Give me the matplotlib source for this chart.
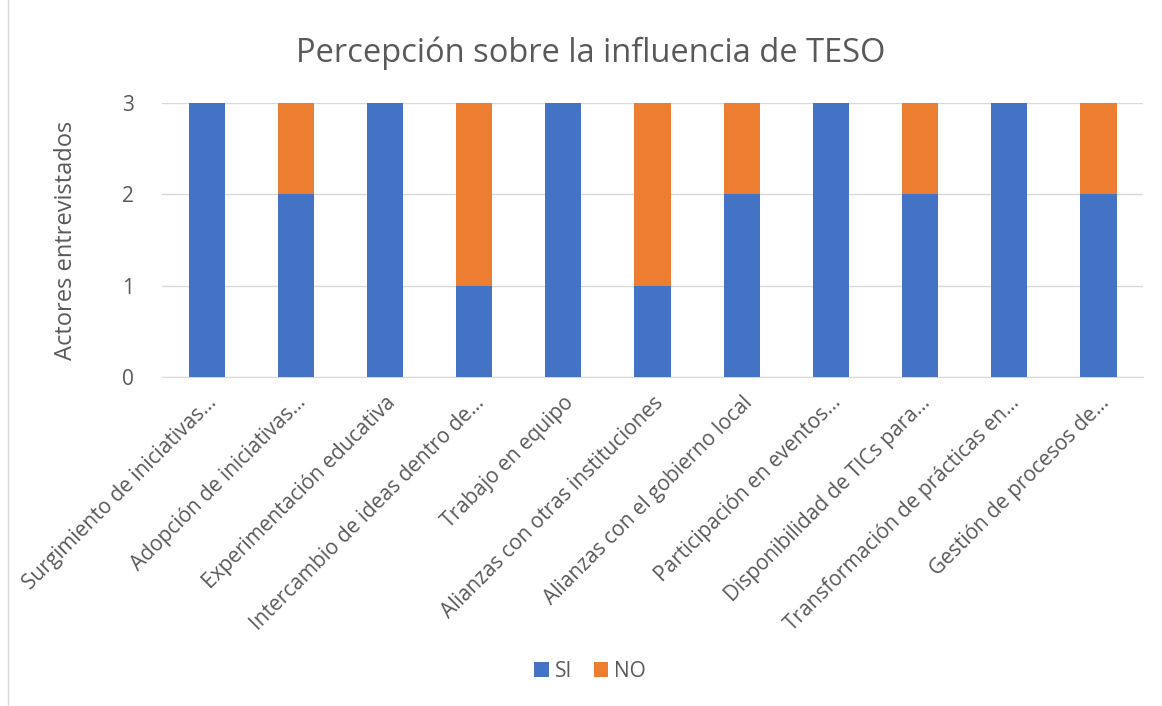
import numpy as np
from matplotlib import pyplot as plt
from matplotlib.patches import Rectangle

categories = [
    "Surgimiento de iniciativas…",
    "Adopción de iniciativas…",
    "Experimentación educativa",
    "Intercambio de ideas dentro de…",
    "Trabajo en equipo",
    "Alianzas con otras instituciones",
    "Alianzas con el gobierno local",
    "Participación en eventos…",
    "Disponibilidad de TICs para…",
    "Transformación de prácticas en…",
    "Gestión de procesos de…",
]
si = [3, 2, 3, 1, 3, 1, 2, 3, 2, 3, 2]
no = [0, 1, 0, 2, 0, 2, 1, 0, 1, 0, 1]

BLUE = "#4472C4"
ORANGE = "#ED7D31"
GREY = "#595959"

plt.rcParams["font.family"] = ["Open Sans", "DejaVu Sans"]

fig = plt.figure(figsize=(11.62, 7.06), dpi=100)
ax = fig.add_axes([0.1394, 0.466, 0.8443, 0.3881])

x = np.arange(len(categories))
ax.bar(x, si, width=0.405, color=BLUE, label="SI", zorder=3)
ax.bar(x, no, width=0.405, bottom=si, color=ORANGE, label="NO", zorder=3)

ax.set_xlim(-0.5, len(categories) - 0.5)
ax.set_ylim(0, 3)
ax.set_yticks([0, 1, 2, 3])
ax.yaxis.grid(True, color="#D9D9D9", linewidth=1, zorder=0)
for s in ["top", "right", "left"]:
    ax.spines[s].set_visible(False)
ax.spines["bottom"].set_color("#D9D9D9")
ax.tick_params(axis="both", length=0, labelcolor=GREY, labelsize=15)
ax.tick_params(axis="y", pad=20)
ax.set_xticks(x)
ax.set_xticklabels(categories, rotation=45, ha="right", rotation_mode="anchor")
ax.tick_params(axis="x", pad=11)

ax.set_ylabel("Actores entrevistados", fontsize=17, color=GREY, labelpad=32)
fig.text(0.508, 0.925, "Percepción sobre la influencia de TESO", ha="center",
         va="center", fontsize=23.5, color=GREY)

fig.legend(loc="center", bbox_to_anchor=(0.508, 0.049), ncol=2, frameon=False,
           fontsize=15, labelcolor=GREY, handlelength=0.7, handleheight=0.7,
           handletextpad=0.3, columnspacing=1.0)

fig.patches.append(Rectangle((0.007, -0.01), 0.995, 1.02, transform=fig.transFigure,
                             fill=False, edgecolor="#D9D9D9", linewidth=1))

fig.savefig("out.png", dpi=100)
